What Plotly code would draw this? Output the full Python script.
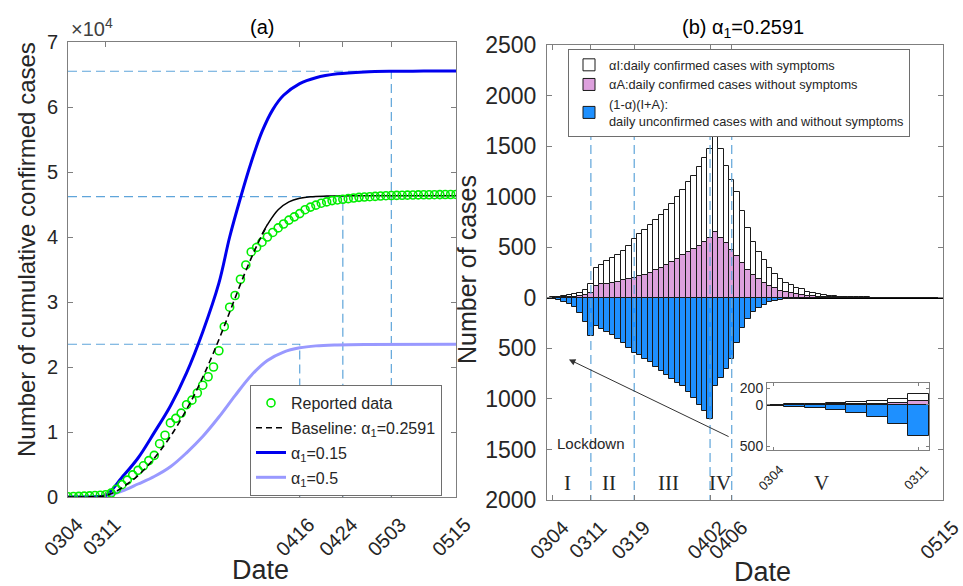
import plotly.graph_objects as go

# ---------------- data: panel (a) cumulative confirmed cases ----------------
date_ticks_a = [0, 7, 43, 51, 60, 72]
date_labels_a = ["0304", "0311", "0416", "0424", "0503", "0515"]

reported_days = list(range(0, 73))
reported_vals = [50, 70, 100, 130, 170, 220, 280, 350, 600, 1200,
                 1900, 2600, 3400, 4100, 4800, 5600, 6400, 8200, 9500, 11400,
                 12100, 12900, 14200, 14900, 16000, 17200, 18500, 20000, 22500, 26200,
                 29200, 31000, 33500, 35700, 37700, 38400, 39200, 40000, 40700, 41400,
                 42000, 42600, 43100, 43600, 44200, 44600, 44900, 45200, 45400, 45600,
                 45700, 45800, 45900, 46000, 46100, 46150, 46200, 46250, 46300, 46350,
                 46380, 46400, 46420, 46440, 46460, 46480, 46490, 46500, 46510, 46520,
                 46530, 46540, 46550]

base_days = [0, 5, 7, 9, 11, 13, 15, 17, 19, 21, 23, 25, 27, 29, 31, 33, 35, 37]
base_vals = [0, 50, 200, 900, 2000, 3300, 5000, 7000, 9300, 12000, 15000, 18400,
             22200, 26300, 30600, 34800, 38600, 41900]
base_tail_days = [36, 37, 39, 41, 43, 45, 48, 55, 72]
base_tail_vals = [40400, 41900, 44200, 45400, 45950, 46200, 46300, 46350, 46350]

a015_days = [0, 5, 7, 10, 13, 16, 19, 22, 25, 28, 30, 32, 34, 36, 38, 40, 43, 46, 50, 55, 60, 66, 72]
a015_vals = [0, 50, 250, 3000, 6000, 9900, 14000, 19100, 25400, 32900, 40000, 46000,
             51500, 56200, 59600, 61800, 63600, 64500, 65100, 65400, 65500, 65520, 65520]

a05_days = [0, 5, 7, 10, 13, 16, 19, 22, 25, 28, 31, 34, 37, 40, 43, 46, 50, 55, 72]
a05_vals = [0, 40, 150, 900, 2000, 3150, 4650, 6800, 9300, 12300, 15600, 18700,
            21000, 22300, 22950, 23250, 23400, 23480, 23500]

guide_levels = [23500, 46200, 65500]
guide_days = [43, 51, 60]

# ---------------- data: panel (b) daily cases ----------------
date_ticks_b = [0, 7, 15, 29, 33, 72]
date_labels_b = ["0304", "0311", "0319", "0402", "0406", "0515"]
phase_days = [7, 15, 29, 33]
phase_names = ["I", "II", "III", "IV", "V"]
phase_name_x = [2.6, 10.3, 21.4, 30.8, 49.6]

bar_days = list(range(0, 73))
aI_vals = [2, 5, 10, 17, 23, 33, 47, 83, 181, 197,
           221, 247, 270, 293, 322, 380, 418, 444, 470, 503,
           521, 552, 578, 612, 643, 691, 723, 780, 833, 882,
           982, 882, 755, 691, 625, 510, 418, 323, 270, 224,
           175, 145, 116, 92, 79, 66, 56, 40, 34, 25,
           20, 15, 11, 8, 6, 5, 3.5, 2.8, 2, 1.3,
           1.4, 0.6, 0.7, 0.7, 0.8, 0.3, 0.4, 0.2, 0.2, 0.1,
           0.15, 0.05, 0.05]
aA_vals = [1, 3, 5, 8, 12, 17, 28, 49, 115, 132,
           141, 148, 158, 174, 188, 200, 214, 230, 250, 270,
           295, 320, 350, 385, 420, 451, 484, 510, 549, 592,
           648, 592, 545, 470, 418, 345, 273, 230, 181, 148,
           115, 92, 72, 56, 43, 33, 26, 19, 15, 11,
           8, 6, 5, 4, 3, 2, 1.5, 1.2, 1, 0.7,
           0.6, 0.4, 0.3, 0.3, 0.2, 0.2, 0.1, 0.1, 0.1, 0.1,
           0.05, 0.05, 0.05]
unconf_vals = [-8, -20, -38, -62, -95, -150, -235, -375, -280, -306,
               -339, -372, -405, -444, -494, -543, -570, -605, -640, -680,
               -720, -760, -800, -840, -870, -930, -990, -1060, -1120, -1200,
               -870, -790, -707, -609, -444, -296, -207, -141, -99, -69,
               -46, -33, -23, -16, -13, -10, -7, -5, -4, -3,
               -2, -1.5, -1, -0.8, -0.6, -0.4, -0.3, -0.2, -0.2, -0.1,
               -0.1, -0.1, -0.1, 0, 0, 0, 0, 0, 0, 0, 0, 0, 0]
inset_n = 8

y_ticks_b = [-2000, -1500, -1000, -500, 0, 500, 1000, 1500, 2000, 2500]

# ---------------- styles ----------------
FONT = "Liberation Sans, Arial, sans-serif"
SERIF = "Liberation Serif, Times New Roman, serif"
TXT = "#262626"
AX = "#7f7f7f"
GUIDE = "#5fa5da"
W, H = 963, 586

fig = go.Figure()

# panel (a) guides
for lv, dd in zip(guide_levels, guide_days):
    fig.add_trace(go.Scatter(x=[0, dd, dd], y=[lv, lv, 0], mode="lines",
                             line=dict(color=GUIDE, width=1.2, dash="9px,5px"),
                             showlegend=False, hoverinfo="skip", xaxis="x", yaxis="y"))

fig.add_trace(go.Scatter(x=a05_days, y=a05_vals, mode="lines", name="α<sub>1</sub>=0.5",
                         line=dict(color="#9999ff", width=3, shape="spline"),
                         legend="legend", legendrank=4, legendgroup="g4"))
fig.add_trace(go.Scatter(x=a015_days, y=a015_vals, mode="lines", name="α<sub>1</sub>=0.15",
                         line=dict(color="#0000ee", width=3, shape="spline"),
                         legend="legend", legendrank=3, legendgroup="g3"))
fig.add_trace(go.Scatter(x=base_tail_days, y=base_tail_vals, mode="lines",
                         line=dict(color="black", width=1.5, shape="spline"),
                         showlegend=False, hoverinfo="skip"))
fig.add_trace(go.Scatter(x=reported_days, y=reported_vals, mode="markers", name="Reported data",
                         marker=dict(symbol="circle-open", color="#00ee00", size=8,
                                     line=dict(width=1.6, color="#00ee00")),
                         legend="legend", legendrank=1, legendgroup="g1"))
fig.add_trace(go.Scatter(x=base_days, y=base_vals, mode="lines", name="Baseline: α<sub>1</sub>=0.2591",
                         line=dict(color="black", width=1.6, dash="6px,4px", shape="spline"),
                         legend="legend", legendrank=2, legendgroup="g2"))

# panel (b) phase lines
for pd in phase_days:
    fig.add_trace(go.Scatter(x=[pd, pd], y=[1650, -2000], mode="lines",
                             line=dict(color=GUIDE, width=1.2, dash="9px,5px"),
                             showlegend=False, hoverinfo="skip", xaxis="x2", yaxis="y2"))

bar_line = dict(color="#1a1a1a", width=1)
fig.add_trace(go.Bar(x=bar_days, y=aA_vals, width=1, name="αA:daily confirmed cases without symptoms",
                     marker=dict(color="#dda0dd", line=bar_line), xaxis="x2", yaxis="y2",
                     legend="legend2", legendrank=2))
fig.add_trace(go.Bar(x=bar_days, y=aI_vals, width=1, name="αI:daily confirmed cases with symptoms",
                     marker=dict(color="white", line=bar_line), xaxis="x2", yaxis="y2",
                     legend="legend2", legendrank=1))
fig.add_trace(go.Bar(x=bar_days, y=unconf_vals, width=1,
                     name="(1-α)(I+A):<br>daily unconfirmed cases with and without symptoms",
                     marker=dict(color="#1e90ff", line=bar_line), xaxis="x2", yaxis="y2",
                     legend="legend2", legendrank=3))

# inset
fig.add_trace(go.Bar(x=bar_days[:inset_n], y=aA_vals[:inset_n], width=1, showlegend=False,
                     marker=dict(color="#dda0dd", line=bar_line), xaxis="x3", yaxis="y3"))
fig.add_trace(go.Bar(x=bar_days[:inset_n], y=aI_vals[:inset_n], width=1, showlegend=False,
                     marker=dict(color="white", line=bar_line), xaxis="x3", yaxis="y3"))
fig.add_trace(go.Bar(x=bar_days[:inset_n], y=unconf_vals[:inset_n], width=1, showlegend=False,
                     marker=dict(color="#1e90ff", line=bar_line), xaxis="x3", yaxis="y3"))

def px_x(a, b):
    return [a / W, b / W]

def px_y(top, bottom):
    return [1 - bottom / H, 1 - top / H]

axis_common = dict(showline=True, linecolor=AX, linewidth=1, mirror="ticks", ticks="inside",
                   ticklen=5, tickcolor=AX, showgrid=False, zeroline=False, automargin=False)
xfont = dict(family=FONT, size=20, color=TXT)

fig.update_layout(
    template="none",
    width=W, height=H, margin=dict(l=0, r=0, t=0, b=0, pad=0),
    paper_bgcolor="white", plot_bgcolor="white",
    barmode="relative", bargap=0,
    font=dict(family=FONT, color=TXT),
    xaxis=dict(domain=px_x(68, 456), range=[0, 72], tickvals=date_ticks_a, ticktext=date_labels_a,
               tickangle=-45, anchor="y", tickfont=xfont, ticklabelstandoff=7, ticklabelshift=9,
               **axis_common),
    yaxis=dict(domain=px_y(42, 497), range=[0, 70000], tickvals=[i * 10000 for i in range(8)],
               ticktext=[str(i) for i in range(8)], anchor="x", ticklabelstandoff=5,
               tickfont=dict(family=FONT, size=20, color=TXT), **axis_common),
    xaxis2=dict(domain=px_x(547, 943), range=[-1.1, 72], tickvals=date_ticks_b, ticktext=date_labels_b,
                tickangle=-45, anchor="y2", tickfont=xfont, ticklabelstandoff=7, ticklabelshift=10,
                **axis_common),
    yaxis2=dict(domain=px_y(45, 500), range=[-2000, 2500], tickvals=y_ticks_b,
                ticktext=[str(abs(v)) for v in y_ticks_b], anchor="x2", ticklabelstandoff=5,
                tickfont=dict(family=FONT, size=23, color=TXT), **axis_common),
    xaxis3=dict(domain=px_x(767, 929), range=[-0.33, 7.5], tickvals=[0, 7], ticktext=["0304", "0311"],
                tickangle=-45, anchor="y3", showline=True, linecolor=AX, mirror="ticks", ticks="inside",
                ticklen=3, tickcolor=AX, showgrid=False, zeroline=False, automargin=False,
                ticklabelstandoff=6, ticklabelshift=6, tickfont=dict(family=FONT, size=13, color=TXT)),
    yaxis3=dict(domain=px_y(383, 450), range=[-545, 265], tickvals=[-500, 0, 200],
                ticktext=["500", "0", "200"], anchor="x3", showline=True, linecolor=AX, mirror="ticks",
                ticks="inside", ticklen=3, tickcolor=AX, showgrid=False, automargin=False,
                zeroline=True, zerolinecolor="black", zerolinewidth=1.5,
                tickfont=dict(family=FONT, size=14, color=TXT)),
    legend=dict(x=250 / W, y=1 - 385 / H, xanchor="left", yanchor="top", bgcolor="white",
                bordercolor="#6e6e6e", borderwidth=1, font=dict(family=FONT, size=16, color=TXT),
                itemwidth=30, tracegroupgap=1, traceorder="grouped"),
    legend2=dict(x=568 / W, y=1 - 49 / H, xanchor="left", yanchor="top", bgcolor="white",
                 bordercolor="#6e6e6e", borderwidth=1, font=dict(family=FONT, size=12.8, color=TXT),
                 itemwidth=30, tracegroupgap=0, traceorder="normal"),
)
fig.update_layout(yaxis2=dict(zeroline=True, zerolinecolor="black", zerolinewidth=1.5))

def pann(text, x, y, size, color=TXT, angle=0, xanchor="center"):
    return dict(text=text, x=x / W, y=1 - y / H, xref="paper", yref="paper", showarrow=False,
                xanchor=xanchor, yanchor="middle", textangle=angle,
                font=dict(size=size, family=FONT, color=color))

ann = [
    pann("(a)", 262, 27, 20, "black"),
    pann("(b) α<sub>1</sub>=0.2591", 743, 28, 20, "black"),
    pann("×10<sup>4</sup>", 69, 27, 20, "#404040", xanchor="left"),
    pann("Number of cumulative confirmed cases", 26, 250, 24, angle=-90),
    pann("Number of cases", 467, 270, 25, angle=-90),
    pann("Date", 260, 570, 27),
    pann("Date", 762, 572, 27),
]
for nm, xx in zip(phase_names, phase_name_x):
    ann.append(dict(text=nm, x=xx, y=-1830, xref="x2", yref="y2", showarrow=False,
                    xanchor="center", yanchor="middle",
                    font=dict(size=21, family=SERIF, color=TXT)))
ann.append(dict(text="Lockdown", x=7, y=-1440, xref="x2", yref="y2", showarrow=False,
                xanchor="center", yanchor="middle", font=dict(size=15, family=FONT, color=TXT)))
ann.append(dict(text="", x=2.95, y=-610, ax=32.7, ay=-1380, xref="x2", yref="y2", axref="x2", ayref="y2",
                showarrow=True, arrowhead=2, arrowsize=1.3, arrowwidth=1, arrowcolor="#333333"))
fig.update_layout(annotations=ann)

fig.write_html("out.html")
